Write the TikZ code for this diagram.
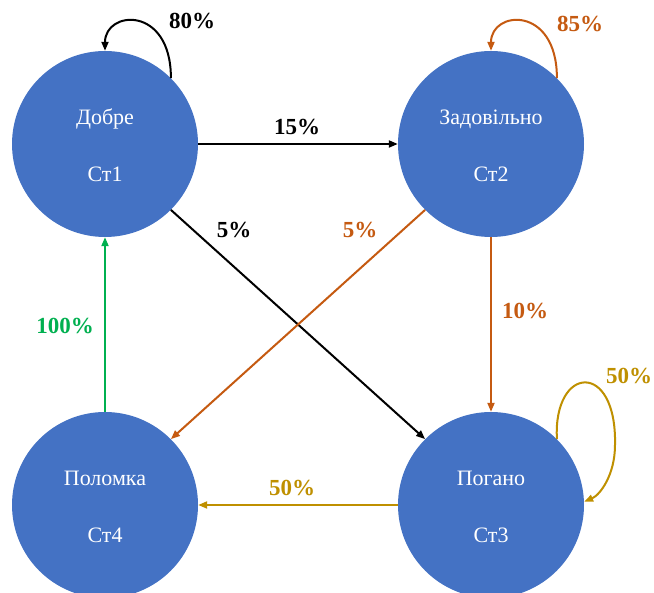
\documentclass[tikz,border=0pt]{standalone}
\usepackage{fontspec}
\setmainfont{Liberation Serif}
\usetikzlibrary{arrows.meta}
\definecolor{stblue}{HTML}{4472C4}
\definecolor{storange}{HTML}{C55A11}
\definecolor{stgold}{HTML}{BF9000}
\definecolor{stgreen}{HTML}{00B050}
\tikzset{
  state/.style={circle, fill=stblue, draw=none, minimum size=186pt, inner sep=0pt},
  sttext/.style={text=white, anchor=base, inner sep=0pt, font=\fontsize{22}{26}\selectfont},
  conn/.style={line width=2pt, -{Triangle[length=9pt,width=7pt]}},
  lbl/.style={font=\fontsize{23}{26}\selectfont\bfseries, inner sep=0pt}
}
\begin{document}
\begin{tikzpicture}[x=1pt,y=-1pt]
\clip (0,0) rectangle (654,593);
\fill[white] (0,0) rectangle (654,593);
\node[state] (n1) at (105,144) {};
\node[state] (n2) at (491,144) {};
\node[state] (n3) at (491,505) {};
\node[state] (n4) at (105,505) {};
\node[sttext] (t1a) at ([yshift=19pt]n1.center) {Добре};
\node[sttext] (t1b) at ([yshift=-38pt]n1.center) {Ст1};
\node[sttext] (t2a) at ([yshift=19pt]n2.center) {Задовільно};
\node[sttext] (t2b) at ([yshift=-38pt]n2.center) {Ст2};
\node[sttext] (t3a) at ([yshift=19pt]n3.center) {Погано};
\node[sttext] (t3b) at ([yshift=-38pt]n3.center) {Ст3};
\node[sttext] (t4a) at ([yshift=19pt]n4.center) {Поломка};
\node[sttext] (t4b) at ([yshift=-38pt]n4.center) {Ст4};

% Ст1 transitions
\draw[conn, black] (n1.45) .. controls (171,5) and (105,10) .. (n1.90);
\draw[conn, black] (n1.east) -- (n2.west);
\draw[conn, black] (n1.-45) -- (n3.135);
% Ст2 transitions
\draw[conn, storange] (n2.45) .. controls (557,5) and (491,10) .. (n2.90);
\draw[conn, storange] (n2.-135) -- (n4.45);
\draw[conn, storange] (n2.south) -- (n3.north);
% Ст3 transitions
\draw[conn, stgold] (n3.45) .. controls (553,365) and (617,360) .. (615,445)
   .. controls (615,475) and (600,495) .. (n3.2);
\draw[conn, stgold] (n3.west) -- (n4.east);
% Ст4 transitions
\draw[conn, stgreen] (n4.north) -- (n1.south);

% labels
\node[lbl, text=black] (l80) at (192,21) {80\%};
\node[lbl, text=black] (l15) at (297,127) {15\%};
\node[lbl, text=black] (l5a) at (234,230) {5\%};
\node[lbl, text=storange] (l85) at (580,24) {85\%};
\node[lbl, text=storange] (l5b) at (360,230) {5\%};
\node[lbl, text=storange] (l10) at (525,311) {10\%};
\node[lbl, text=stgold] (l50a) at (629,376) {50\%};
\node[lbl, text=stgold] (l50b) at (292,488) {50\%};
\node[lbl, text=stgreen] (l100) at (65,326) {100\%};
\end{tikzpicture}
\end{document}
